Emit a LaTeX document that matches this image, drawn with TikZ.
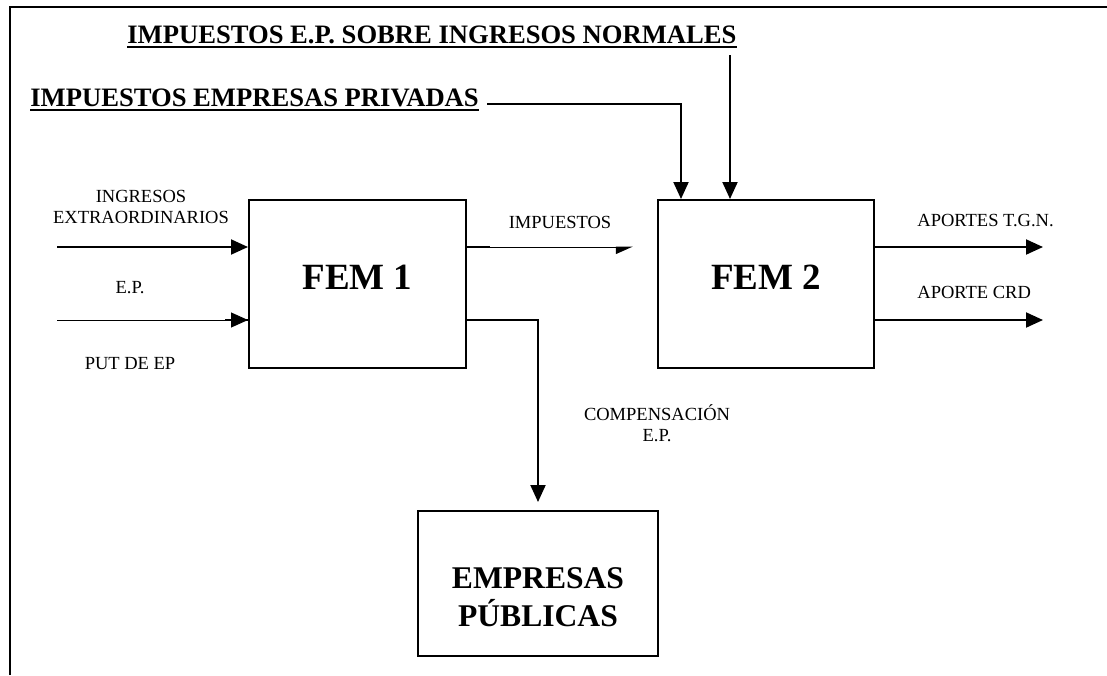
\documentclass[tikz,border=0pt]{standalone}
\usepackage{fontspec}
\setmainfont{Liberation Serif}
\usetikzlibrary{arrows.meta,positioning}
\begin{document}
\begin{tikzpicture}[x=0.5pt,y=-0.5pt,
    box/.style={draw,line width=1pt,inner sep=0pt},
    arr/.style={line width=1pt,-{Triangle[length=8.5pt,width=7.5pt]}},
    thinarr/.style={line width=0.5pt,-{Triangle[length=8.5pt,width=7.5pt]}},
    tag/.style={font=\fontsize{9.25}{10.5}\selectfont,inner sep=0pt,align=center},
    title/.style={font=\fontsize{13.3}{16}\selectfont\bfseries,inner sep=0pt,anchor=base west},
    big/.style={font=\fontsize{18.5}{22}\selectfont\bfseries,inner sep=0pt},
    mid/.style={font=\fontsize{15.8}{19}\selectfont\bfseries,inner sep=0pt,align=center}]
    \useasboundingbox (0,0) rectangle (1107,675);
    \draw[line width=1pt] (10,675) -- (10,7) -- (1107,7);
    % titles
    \node[title] (t1) at (127,43) {IMPUESTOS E.P. SOBRE INGRESOS NORMALES};
    \node[title] (t2) at (30,106) {IMPUESTOS EMPRESAS PRIVADAS};
    \draw[line width=1pt] ([yshift=-2pt]t1.base west) -- ([yshift=-2pt]t1.base east);
    \draw[line width=1pt] ([yshift=-2pt]t2.base west) -- ([yshift=-2pt]t2.base east);
    % boxes
    \node[box,minimum width=108.5pt,minimum height=84pt] (fem1) at (357.5,284) {};
    \node[box,minimum width=108pt,minimum height=84pt] (fem2) at (766,284) {};
    \node[box,minimum width=120pt,minimum height=72.5pt] (ep) at (538,583.5) {};
    \node[big] (fem1txt) at ([yshift=3.5pt]fem1.center) {FEM 1};
    \node[big] (fem2txt) at ([yshift=3.5pt]fem2.center) {FEM 2};
    \node[mid] (eptxt) at ([yshift=-7pt]ep.center) {EMPRESAS\\PÚBLICAS};
    % labels
    \node[tag] (ing) at (141,207) {INGRESOS\\EXTRAORDINARIOS};
    \node[tag] (epin) at (130,288) {E.P.};
    \node[tag] (put) at (130,364) {PUT DE EP};
    \node[tag] (imptxt) at (560,222) {IMPUESTOS};
    \node[tag,anchor=west] (tgn) at (917,221) {APORTES T.G.N.};
    \node[tag,anchor=west] (crd) at (917,292) {APORTE CRD};
    \node[tag] (comp) at (657,423) {COMPENSACIÓN\\E.P.};
    % inputs
    \coordinate (in1) at (57,247);
    \coordinate (in2) at (57,320);
    \draw[arr] (in1) -- (in1 -| fem1.west);
    \draw[thinarr] (in2) -- (in2 -| fem1.west);
    \draw[line width=1pt] (in2 -| fem1.west) -- ++(-23,0);
    % fem1 to fem2
    \coordinate (imp) at (633,247);
    \draw[line width=0.5pt,-{Triangle[length=8pt,width=7pt,right]}] (imp -| fem1.east) -- (imp);
    \draw[line width=1pt] (imp -| fem1.east) -- ++(23,0);
    % fem1 to empresas
    \draw[arr,shorten >=4pt] (in2 -| fem1.east) -| (ep.north);
    % fem2 outputs
    \coordinate (out1) at (1043,247);
    \coordinate (out2) at (1043,320);
    \draw[arr] (out1 -| fem2.east) -- (out1);
    \draw[arr] (out2 -| fem2.east) -- (out2);
    % taxes into fem2
    \coordinate (n1) at (730,55);
    \draw[arr] (n1) -- (n1 |- fem2.north);
    \draw[arr] ([xshift=4pt,yshift=1pt]t2.base east) -| ([xshift=12pt]fem2.north west);
\end{tikzpicture}
\end{document}
